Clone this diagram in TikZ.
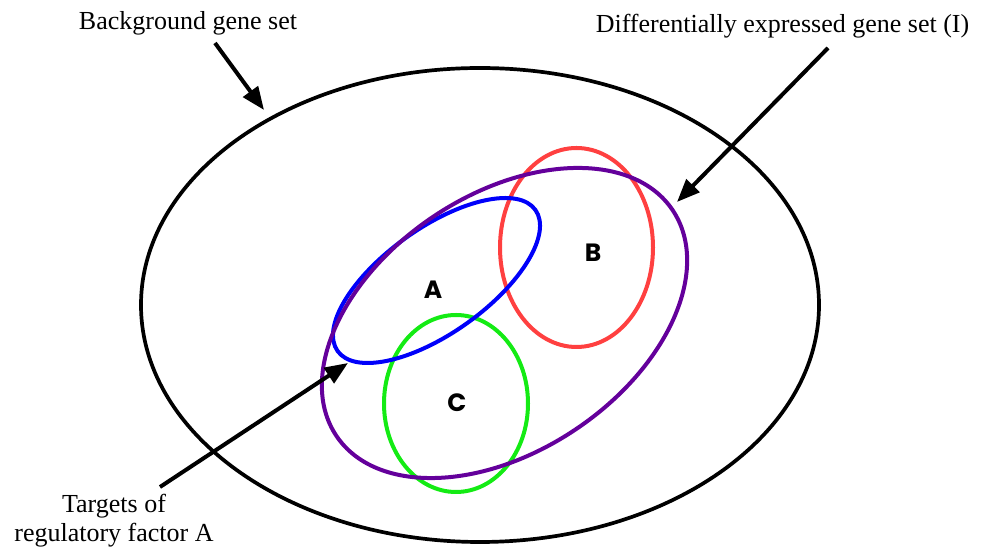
\documentclass[tikz,border=0pt]{standalone}
\usepackage{fontspec}
\setmainfont{Liberation Serif}
\newfontfamily\letterfont{Poppins}
\usetikzlibrary{shapes.geometric, arrows.meta}
\definecolor{setblue}{RGB}{0,0,250}
\definecolor{setred}{RGB}{255,64,64}
\definecolor{setgreen}{RGB}{20,235,20}
\definecolor{setpurple}{RGB}{100,0,155}
\tikzset{
    geneset/.style = {ellipse, inner sep=0pt, line width=4pt},
    caption/.style = {font=\fontsize{26}{29}\selectfont, inner sep=0pt, align=center},
    letter/.style = {font=\letterfont\bfseries\fontsize{25}{25}\selectfont, inner sep=0pt},
    arrow/.style = {line width=4pt, -{Triangle[length=23pt, width=18pt]}}
}

\begin{document}
\begin{tikzpicture}[x=1pt, y=1pt]
\useasboundingbox (0,0) rectangle (986,548);
\node (bg) [geneset, draw=black, line width=3.7pt, minimum width=678pt, minimum height=474pt] at (480,243) {};
\node (setB) [geneset, draw=setred, minimum width=153pt, minimum height=199pt] at (576.5,300.5) {};
\node (setC) [geneset, draw=setgreen, minimum width=144pt, minimum height=177pt] at (456,144.5) {};
\node (setA) [geneset, draw=setblue, minimum width=243pt, minimum height=105pt, rotate=35.5] at (436.5,267.5) {};
\node (deg) [geneset, draw=setpurple, minimum width=405pt, minimum height=256pt, rotate=33.9] at (504.5,225) {};

\node (labA) [letter] at (433,258) {A};
\node (labB) [letter] at (593,295) {B};
\node (labC) [letter] at (457,145) {C};

\node (bglabel) [caption, anchor=base] at (188,518) {Background gene set};
\node (delabel) [caption, anchor=base] at (782.5,515) {Differentially expressed gene set (I)};
\node (tglabel) [caption, anchor=south] at (114,0.4) {Targets of\\regulatory factor A};

\coordinate (bgtail) at (215,505);
\coordinate (bgtip) at (264,438);
\coordinate (detail) at (828,500);
\coordinate (detip) at (677,346);
\coordinate (tgtail) at (160,61);
\coordinate (tgtip) at (348,185);

\draw [arrow] (bgtail) -- (bgtip);
\draw [arrow] (detail) -- (detip);
\draw [arrow] (tgtail) -- (tgtip);
\end{tikzpicture}
\end{document}
